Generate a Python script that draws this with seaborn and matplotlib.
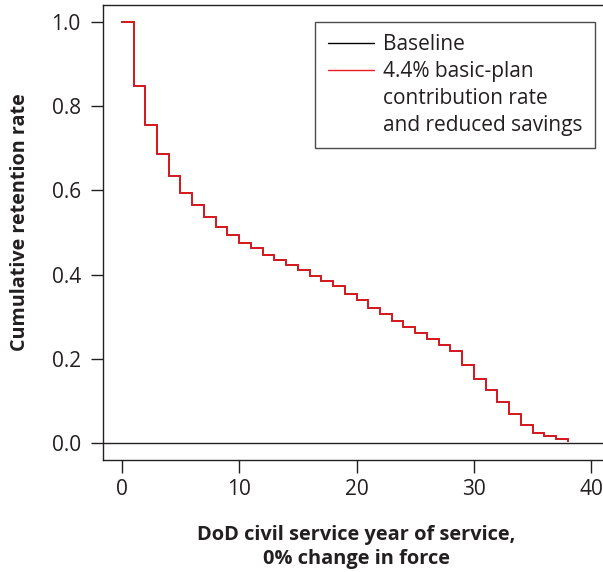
import numpy as np
import pandas as pd
import matplotlib
matplotlib.use("Agg")
import matplotlib.pyplot as plt
import seaborn as sns
from matplotlib.lines import Line2D

years = list(range(0, 39))
baseline = [1.0, 0.848, 0.754, 0.686, 0.633, 0.594, 0.565, 0.537, 0.514, 0.495,
            0.476, 0.463, 0.446, 0.434, 0.422, 0.411, 0.396, 0.385, 0.373, 0.355,
            0.340, 0.321, 0.306, 0.291, 0.276, 0.261, 0.247, 0.233, 0.219, 0.186,
            0.152, 0.126, 0.098, 0.069, 0.043, 0.025, 0.016, 0.009, 0.005]
policy = [1.0, 0.848, 0.754, 0.686, 0.633, 0.594, 0.565, 0.537, 0.514, 0.495,
          0.476, 0.463, 0.446, 0.434, 0.422, 0.411, 0.396, 0.385, 0.373, 0.355,
          0.340, 0.321, 0.306, 0.291, 0.276, 0.261, 0.247, 0.233, 0.219, 0.186,
          0.152, 0.126, 0.098, 0.069, 0.043, 0.025, 0.016, 0.009, 0.005]
series_names = ["Baseline", "4.4% basic-plan contribution rate and reduced savings"]
legend_lines = ["Baseline", "4.4% basic-plan", "contribution rate", "and reduced savings"]
x_ticks = [0, 10, 20, 30, 40]
y_ticks = [0.0, 0.2, 0.4, 0.6, 0.8, 1.0]

sns.set_theme(style="ticks")
plt.rcParams['font.family'] = ['Open Sans', 'DejaVu Sans']
TXT = '#231f20'
RED = '#ec1c24'

df = pd.DataFrame({
    "year": years * 2,
    "rate": baseline + policy,
    "series": [series_names[0]] * len(years) + [series_names[1]] * len(years),
})

fig = plt.figure(figsize=(6.03, 5.72), dpi=100)
ax = fig.add_axes([103 / 603, 1 - 460 / 572, (610 - 103) / 603, (460 - 5) / 572])

sns.lineplot(data=df, x="year", y="rate", hue="series",
             palette={series_names[0]: "black", series_names[1]: RED},
             drawstyle="steps-post", linewidth=1.4, ax=ax, legend=False,
             errorbar=None, sort=True, alpha=0.92)
ax.axhline(0, color=TXT, linewidth=1.0, zorder=0)

ax.set_xlim(-1.6, 41.6)
ax.set_ylim(-0.04, 1.04)
ax.set_xticks(x_ticks)
ax.set_xticklabels([str(t) for t in x_ticks])
ax.set_yticks(y_ticks)
ax.set_yticklabels([f"{t:.1f}" for t in y_ticks])
ax.tick_params(axis='both', direction='out', length=9, width=1.0, color=TXT,
               labelsize=15, labelcolor=TXT)
ax.tick_params(axis='x', pad=5)
ax.tick_params(axis='y', pad=7)
for s in ax.spines.values():
    s.set_visible(True)
    s.set_color(TXT)
    s.set_linewidth(1.0)

ax.set_xlabel("DoD civil service year of service,\n0% change in force",
              fontsize=14.4, fontweight='bold', color=TXT, labelpad=18, linespacing=1.25)
ax.set_ylabel("Cumulative retention rate", fontsize=14.2, fontweight='bold', color=TXT)
ax.yaxis.set_label_coords(-0.144, 0.523)

handles = [Line2D([], [], color="black", linewidth=1.0),
           Line2D([], [], color=RED, linewidth=1.0),
           Line2D([], [], color="none", linewidth=1.0),
           Line2D([], [], color="none", linewidth=1.0)]
leg = ax.legend(handles, legend_lines, loc='upper right',
                bbox_to_anchor=(595 / 603, 1 - 21.7 / 572),
                bbox_transform=fig.transFigure, borderaxespad=0,
                fontsize=15, frameon=True, fancybox=False, handlelength=2.2,
                handletextpad=0.45, labelspacing=0.28, borderpad=0.6)
leg.get_frame().set_edgecolor(TXT)
leg.get_frame().set_linewidth(1.0)
for t in leg.get_texts():
    t.set_color(TXT)

fig.savefig("out.png", dpi=100)
